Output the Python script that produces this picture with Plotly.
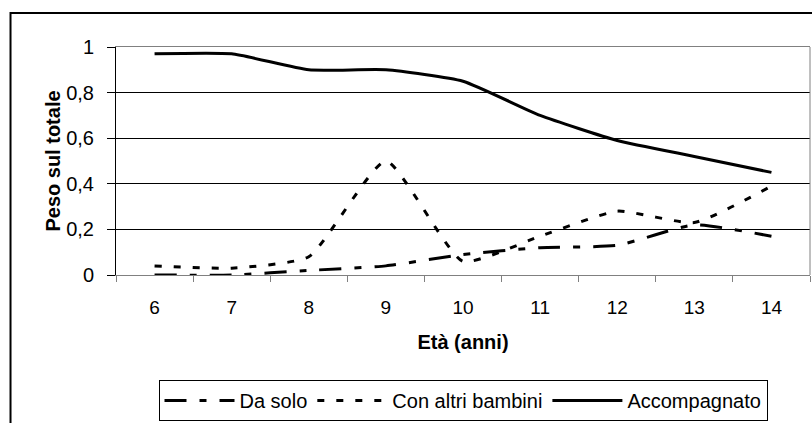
import plotly.graph_objects as go

# ---- data ----
ages = ["6", "7", "8", "9", "10", "11", "12", "13", "14"]
da_solo = [0.0, 0.0, 0.02, 0.04, 0.09, 0.12, 0.13, 0.22, 0.17]
con_altri_bambini = [0.04, 0.03, 0.08, 0.50, 0.06, 0.17, 0.28, 0.23, 0.39]
accompagnato = [0.97, 0.97, 0.90, 0.90, 0.85, 0.70, 0.59, 0.52, 0.45]

y_tickvals = [0, 0.2, 0.4, 0.6, 0.8, 1]
y_ticktext = ["0", "0,2", "0,4", "0,6", "0,8", "1"]

FONT = "Liberation Sans, Arial, sans-serif"
SMOOTH = 0.5

fig = go.Figure()
fig.add_trace(go.Scatter(
    x=ages, y=da_solo, name="Da solo", mode="lines",
    line=dict(color="black", width=3, dash="22px,13px,7px,13px",
              shape="spline", smoothing=SMOOTH)))
fig.add_trace(go.Scatter(
    x=ages, y=con_altri_bambini, name="Con altri bambini", mode="lines",
    line=dict(color="black", width=3, dash="7px,12px",
              shape="spline", smoothing=SMOOTH)))
fig.add_trace(go.Scatter(
    x=ages, y=accompagnato, name="Accompagnato", mode="lines",
    line=dict(color="black", width=3, shape="spline", smoothing=SMOOTH)))

fig.update_layout(
    width=812, height=423,
    margin=dict(l=116, r=2, t=47, b=148, autoexpand=False),
    paper_bgcolor="white", plot_bgcolor="white",
    font=dict(family=FONT, size=19, color="black"),
    showlegend=True,
    legend=dict(
        orientation="h", x=0.5, xanchor="center", y=-0.46, yanchor="top",
        bordercolor="black", borderwidth=1, bgcolor="white",
        font=dict(family=FONT, size=20, color="black"),
        itemwidth=70, traceorder="normal", tracegroupgap=0,
    ),
)

fig.update_xaxes(
    type="category", tickson="boundaries", range=[-0.5, len(ages) - 0.5],
    ticks="outside", ticklen=6, tickcolor="#808080", tickwidth=1,
    showline=True, linecolor="#808080", linewidth=1, mirror=True,
    showgrid=False, zeroline=False,
    tickfont=dict(family=FONT, size=19), ticklabelstandoff=15,
    title=dict(text="Età (anni)", font=dict(family=FONT, size=20, weight="bold"),
               standoff=18),
)
fig.update_yaxes(
    range=[0, 1], tickvals=y_tickvals, ticktext=y_ticktext,
    ticks="outside", ticklen=8, tickcolor="black", tickwidth=1,
    showline=True, linecolor="black", linewidth=1,
    showgrid=True, gridcolor="black", gridwidth=1, zeroline=False,
    tickfont=dict(family=FONT, size=20), ticklabelstandoff=9,
    title=dict(text="Peso sul totale", font=dict(family=FONT, size=20, weight="bold"),
               standoff=0),
)

# plot-area right border (grey) and outer chart frame
fig.add_shape(type="line", xref="x domain", yref="y domain",
              x0=1, x1=1, y0=0, y1=1, line=dict(color="#808080", width=1))
fig.add_shape(type="rect", xref="paper", yref="paper",
              x0=-0.152, x1=1.5, y0=1.149, y1=-1.0,
              line=dict(color="black", width=2), fillcolor="rgba(0,0,0,0)",
              layer="above")

fig.write_html("out.html")
